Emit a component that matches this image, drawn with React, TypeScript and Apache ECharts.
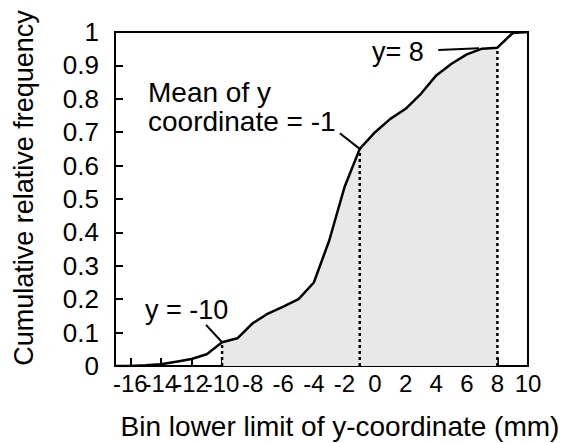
import React, { useEffect, useRef } from "react";
import * as echarts from "echarts";

const binLimits = [-17, -16, -15, -14, -13, -12, -11, -10, -9, -8, -7, -6, -5, -4, -3, -2, -1, 0, 1, 2, 3, 4, 5, 6, 7, 8, 9, 10];
const cumFreq = [0, 0, 0.002, 0.005, 0.013, 0.021, 0.035, 0.071, 0.083, 0.128, 0.157, 0.178, 0.2, 0.25, 0.375, 0.535, 0.65, 0.7, 0.74, 0.77, 0.815, 0.87, 0.905, 0.933, 0.95, 0.953, 0.997, 1.0];
const xTickValues = [-16, -14, -12, -10, -8, -6, -4, -2, 0, 2, 4, 6, 8, 10];
const shadeFrom = -10;
const shadeTo = 8;
const markerXs = [-10, -1, 8];
const leaderMinus10 = [[-11.05, 0.123], [-10.0, 0.071]];
const leaderMean = [[-2.3, 0.697], [-1.0, 0.65]];
const leader8 = [[4.13, 0.946], [6.8, 0.951]];

const FONT = "'Liberation Sans', Arial, sans-serif";

export default function App() {
  const ref = useRef<HTMLDivElement>(null);
  useEffect(() => {
    document.body.style.margin = "0";
    const chart = echarts.init(ref.current!, undefined, { renderer: "svg" });
    const curve = binLimits.map((b, i) => [b, cumFreq[i]]);
    const shaded = curve.filter((p) => p[0] >= shadeFrom && p[0] <= shadeTo);
    const valueAt = (x: number) => cumFreq[binLimits.indexOf(x)];
    const labelsA = xTickValues.filter((_, i) => i % 2 === 0);
    const labelsB = xTickValues.filter((_, i) => i % 2 === 1);
    const dotted = markerXs.map((x) => ({
      type: "line",
      data: [[x, 0], [x, valueAt(x)]],
      symbol: "none",
      silent: true,
      z: 3,
      lineStyle: { color: "#000", width: 2.5, type: [3, 3] },
    }));
    const leader = (d: number[][]) => ({
      type: "line",
      data: d,
      symbol: "none",
      silent: true,
      z: 4,
      lineStyle: { color: "#000", width: 2 },
    });
    const textStyle = (t: string, x: number, y: number, size: number, extra: any = {}) => ({
      type: "text",
      x,
      y,
      style: {
        text: t,
        fontSize: size,
        fontFamily: FONT,
        fill: "#000",
        align: extra.align || "left",
        verticalAlign: "middle",
        textAlign: extra.align || "left",
        textVerticalAlign: "middle",
      },
      rotation: extra.rotation || 0,
      silent: true,
    });
    const xLabel = (values: number[]) => ({
      customValues: values,
      fontSize: 24,
      fontFamily: FONT,
      color: "#000",
      margin: 5,
      hideOverlap: false,
      showMinLabel: true,
      showMaxLabel: true,
    });
    chart.setOption({
      animation: false,
      grid: {
        left: 115,
        right: 36,
        top: 32,
        bottom: 77,
        show: true,
        borderColor: "#000",
        borderWidth: 2,
        backgroundColor: "transparent",
      },
      xAxis: [
        {
          type: "value",
          min: -17,
          max: 10,
          position: "bottom",
          axisLine: { show: true, onZero: false, lineStyle: { color: "#000", width: 2 } },
          axisTick: { show: true, inside: true, length: 8, lineStyle: { color: "#000", width: 2 }, customValues: xTickValues },
          axisLabel: xLabel(labelsA),
          splitLine: { show: false },
        },
        {
          type: "value",
          min: -17,
          max: 10,
          position: "bottom",
          offset: 0,
          axisLine: { show: false, onZero: false },
          axisTick: { show: false },
          axisLabel: xLabel(labelsB),
          splitLine: { show: false },
        },
      ],
      yAxis: {
        type: "value",
        min: 0,
        max: 1,
        interval: 0.1,
        axisLine: { show: true, onZero: false, lineStyle: { color: "#000", width: 2 } },
        axisTick: { show: true, inside: true, length: 8, lineStyle: { color: "#000", width: 2 } },
        axisLabel: {
          fontSize: 26,
          fontFamily: FONT,
          color: "#000",
          margin: 16,
          formatter: (v: number) => String(Math.round(v * 10) / 10),
        },
        splitLine: { show: false },
      },
      series: [
        {
          type: "line",
          data: shaded,
          symbol: "none",
          silent: true,
          z: 1,
          lineStyle: { width: 0, opacity: 0 },
          areaStyle: { color: "#e7e8e7", opacity: 1, origin: "start" },
        },
        ...dotted,
        {
          type: "line",
          data: curve,
          symbol: "none",
          silent: true,
          z: 5,
          lineStyle: { color: "#000", width: 2.5 },
        },
        leader(leaderMinus10),
        leader(leaderMean),
        leader(leader8),
      ],
      graphic: [
        textStyle("Cumulative relative frequency", 24, 188, 27, { align: "center", rotation: Math.PI / 2 }),
        textStyle("Bin lower limit of y-coordinate (mm)", 340, 426, 28, { align: "center" }),
        textStyle("y = -10", 145, 310, 27),
        textStyle("Mean of y", 148, 92, 28),
        textStyle("coordinate = -1", 148, 121, 28),
        textStyle("y= 8", 372, 52, 27),
      ],
    });
    return () => chart.dispose();
  }, []);
  return <div ref={ref} style={{ width: 564, height: 443 }} />;
}
